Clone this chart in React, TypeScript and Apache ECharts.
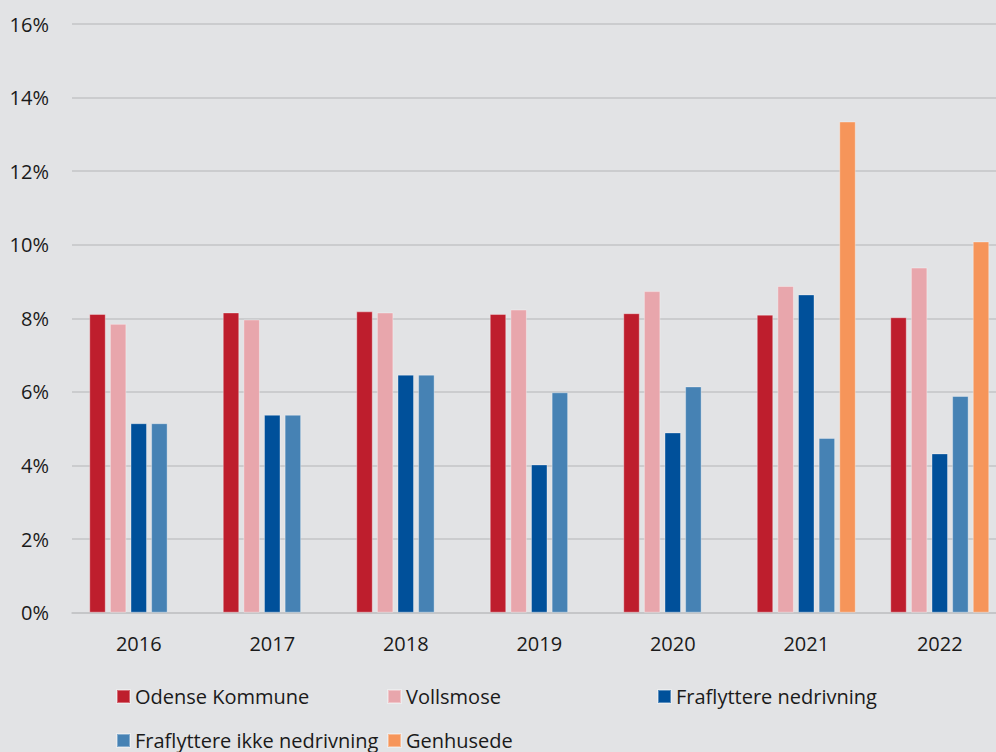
import React, { useEffect, useRef } from "react";
import * as echarts from "echarts";

const years = ["2016", "2017", "2018", "2019", "2020", "2021", "2022"];
const odense = [8.12, 8.16, 8.19, 8.12, 8.14, 8.1, 8.03];
const vollsmose = [7.85, 7.97, 8.16, 8.24, 8.74, 8.88, 9.38];
const nedrivning = [5.15, 5.38, 6.47, 4.03, 4.9, 8.65, 4.33];
const ikkeNedrivning = [5.15, 5.38, 6.47, 5.99, 6.15, 4.75, 5.89];
const genhusede = [null, null, null, null, null, 13.35, 10.09];

const seriesNames = [
  "Odense Kommune",
  "Vollsmose",
  "Fraflyttere nedrivning",
  "Fraflyttere ikke nedrivning",
  "Genhusede",
];
const seriesData = [odense, vollsmose, nedrivning, ikkeNedrivning, genhusede];
const colors = ["#BE1E2D", "#E8A6AC", "#00509A", "#4682B4", "#F6955A"];
const legendPos = [
  { left: 116, top: 686 },
  { left: 387, top: 686 },
  { left: 657, top: 686 },
  { left: 116, top: 730 },
  { left: 387, top: 730 },
];

const FONT = "'Open Sans', 'Noto Sans', sans-serif";
const TEXT = "#1a1a1a";

export default function App() {
  const ref = useRef<HTMLDivElement>(null);
  useEffect(() => {
    if (!ref.current) return;
    const chart = echarts.init(ref.current, undefined, { renderer: "svg" });
    chart.setOption({
      animation: false,
      backgroundColor: "#E2E3E5",
      textStyle: { fontFamily: FONT, color: TEXT },
      grid: {
        left: 72,
        right: 0.5,
        top: 24,
        bottom: 139.3,
        containLabel: false,
        outerBoundsMode: "none",
      },
      xAxis: {
        type: "category",
        data: years,
        axisLine: { show: true, lineStyle: { color: "#C3C4C6", width: 1.5 } },
        axisTick: { show: false },
        axisLabel: { color: TEXT, fontSize: 20, fontFamily: FONT, margin: 21 },
      },
      yAxis: {
        type: "value",
        min: 0,
        max: 16,
        interval: 2,
        axisLine: { show: false },
        axisTick: { show: false },
        splitLine: { lineStyle: { color: "#C3C4C6", width: 1.5 } },
        axisLabel: {
          color: TEXT,
          fontSize: 20,
          fontFamily: FONT,
          margin: 23,
          formatter: "{value}%",
        },
      },
      legend: seriesNames.map((n, i) => ({
        data: [n],
        left: legendPos[i].left,
        top: legendPos[i].top,
        padding: 0,
        icon: "rect",
        itemWidth: 13,
        itemHeight: 13,
        textStyle: { fontSize: 20, fontFamily: FONT, color: TEXT, lineHeight: 21 },
        selectedMode: false,
      })),
      series: seriesNames.map((n, i) => ({
        name: n,
        type: "bar",
        data: seriesData[i],
        barWidth: 16.5,
        barGap: "25%",
        itemStyle: {
          color: colors[i],
          borderColor: "rgba(255,255,255,0.35)",
          borderWidth: 1,
        },
      })),
    });
    return () => chart.dispose();
  }, []);
  return (
    <div
      style={{
        position: "fixed",
        left: 0,
        top: 0,
        width: 996,
        height: 752,
        overflow: "hidden",
        background: "#E2E3E5",
      }}
    >
      <div ref={ref} style={{ width: 1007, height: 752 }} />
    </div>
  );
}
